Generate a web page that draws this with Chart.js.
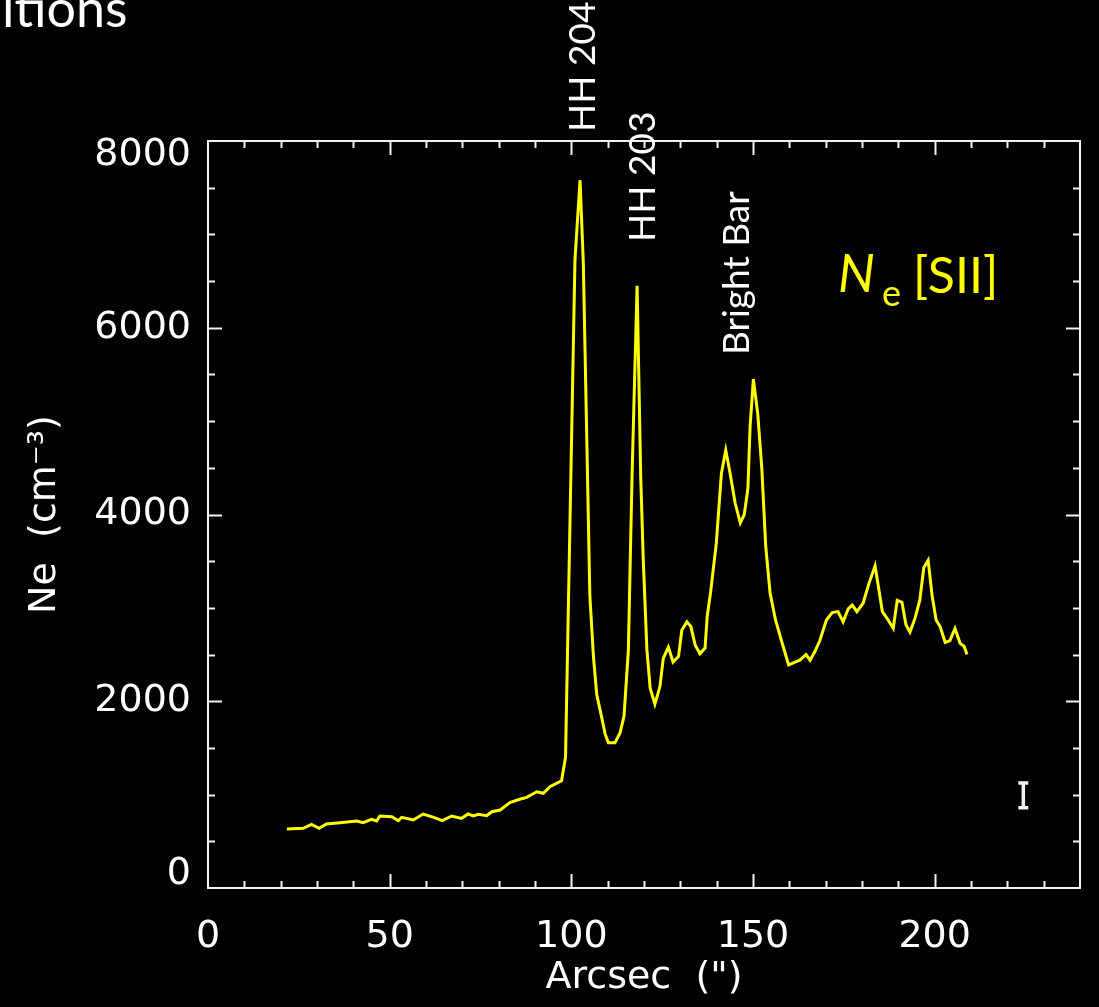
<!DOCTYPE html>
<html>
<head>
<meta charset="utf-8">
<title>Ne [SII] profile</title>
<script src="https://cdn.jsdelivr.net/npm/chart.js@4.4.1/dist/chart.umd.min.js"></script>
<style>
  body { margin: 0; background: #000; }
  #wrap { width: 1099px; height: 1007px; }
</style>
</head>
<body>
<div id="wrap"><canvas id="ne" width="1099" height="1007"></canvas></div>
<script>
"use strict";
// position along the slit (arcsec) and electron density from [SII] (cm^-3)
var arcsec = [21.7, 26.2, 28.5, 30.6, 32.6, 36.3, 40.9, 42.7, 45.0, 46.4, 47.3, 50.6, 52.4, 53.3, 56.5, 59.2,
  62.1, 64.5, 67.1, 69.8, 71.6, 73.0, 74.4, 76.7, 78.1, 80.4, 83.1, 85.8, 87.7, 90.5, 92.3, 94.1, 97.3, 98.4,
  101.0, 102.4, 103.3, 105.1, 106.1, 107.0, 107.9, 109.3, 110.2, 112.0, 113.4, 114.5, 115.7, 116.7, 118.1,
  119.1, 119.8, 120.8, 121.7, 123.0, 124.4, 125.3, 126.7, 128.0, 129.5, 130.4, 131.8, 132.9, 134.1, 135.4,
  136.8, 137.4, 138.3, 139.9, 141.3, 142.5, 143.7, 145.1, 146.5, 147.6, 148.6, 149.2, 150.1, 151.3, 152.4,
  153.5, 154.7, 156.2, 157.9, 159.8, 161.6, 162.9, 164.6, 165.7, 167.0, 168.4, 170.2, 171.8, 173.4, 174.8,
  176.2, 177.3, 178.6, 180.3, 181.9, 183.6, 185.6, 187.2, 188.6, 189.7, 191.0, 192.1, 193.2, 194.6, 195.9,
  197.0, 198.2, 199.3, 200.4, 201.5, 202.9, 204.2, 205.6, 207.0, 208.1, 208.9];
var neSII = [632, 640, 682, 640, 685, 700, 718, 700, 735, 718, 771, 764, 721, 757, 728, 792,
  757, 721, 771, 746, 792, 771, 789, 775, 817, 835, 914, 950, 971, 1031, 1014, 1085, 1149, 1400,
  6730, 7580, 6690, 3130, 2470, 2070, 1910, 1650, 1555, 1555, 1660, 1840, 2550, 4400, 6450,
  4400, 3510, 2550, 2140, 1970, 2160, 2460, 2580, 2420, 2480, 2760, 2850, 2800, 2600, 2510,
  2570, 2910, 3160, 3690, 4440, 4690, 4440, 4120, 3910, 4000, 4280, 4940, 5450, 5080, 4510,
  3660, 3160, 2870, 2640, 2390, 2420, 2440, 2500, 2440, 2530, 2650, 2870, 2950, 2960, 2850,
  2990, 3030, 2960, 3050, 3260, 3450, 2960, 2870, 2780, 3080, 3060, 2820, 2740, 2890, 3080,
  3430, 3510, 3130, 2870, 2800, 2630, 2650, 2780, 2620, 2590, 2500];

var xTicks = [0, 50, 100, 150, 200];
var yTicks = [0, 2000, 4000, 6000, 8000];

// labelled features and where they sit along the slit
var featureNames = ["HH 204", "HH 203", "Bright Bar"];
var featureX = [106.5, 123.0, 149.0];

// typical error bar
var errX = 224.4;
var errLow = 860;
var errHigh = 1125;

var tickFont = { family: '"DejaVu Sans", sans-serif', size: 38 };

var points = arcsec.map(function (a, i) { return { x: a, y: neSII[i] }; });

// IDL style box: frame, inward ticks on all four sides, y labels, notes
var boxPlugin = {
  id: "box",
  afterDraw: function (chart) {
    var ctx = chart.ctx;
    var a = chart.chartArea;
    var xs = chart.scales.x, ys = chart.scales.y;
    ctx.save();
    ctx.strokeStyle = "#f2f2f2";
    ctx.lineWidth = 2;
    ctx.strokeRect(a.left, a.top, a.right - a.left, a.bottom - a.top);

    ctx.beginPath();
    for (var v = 10; v < 240; v += 10) {
      var px = Math.round(xs.getPixelForValue(v)) + 0.5;
      var len = v % 50 === 0 ? 14 : 7;
      ctx.moveTo(px, a.bottom); ctx.lineTo(px, a.bottom - len);
      ctx.moveTo(px, a.top); ctx.lineTo(px, a.top + len);
    }
    for (var w = 500; w < 8000; w += 500) {
      var py = Math.round(ys.getPixelForValue(w)) + 0.5;
      var l2 = w % 2000 === 0 ? 14 : 7;
      ctx.moveTo(a.left, py); ctx.lineTo(a.left + l2, py);
      ctx.moveTo(a.right, py); ctx.lineTo(a.right - l2, py);
    }
    ctx.stroke();

    // y tick labels, end ones kept inside the box height
    ctx.fillStyle = "#fff";
    ctx.font = tickFont.size + "px " + tickFont.family;
    ctx.textAlign = "right";
    ctx.textBaseline = "middle";
    yTicks.forEach(function (t) {
      var y = ys.getPixelForValue(t);
      y = Math.min(Math.max(y, a.top + 14), a.bottom - 14);
      ctx.fillText(String(t), a.left - 17, y);
    });

    // error bar
    var ex = xs.getPixelForValue(errX);
    var e1 = ys.getPixelForValue(errLow), e2 = ys.getPixelForValue(errHigh);
    ctx.lineWidth = 3.5;
    ctx.beginPath();
    ctx.moveTo(ex, e1); ctx.lineTo(ex, e2);
    ctx.moveTo(ex - 5, e1); ctx.lineTo(ex + 5, e1);
    ctx.moveTo(ex - 5, e2); ctx.lineTo(ex + 5, e2);
    ctx.stroke();

    // feature names, written upwards
    var bottoms = [132, 242, 355];
    ctx.font = "37px Lato, sans-serif";
    ctx.textAlign = "left";
    ctx.textBaseline = "alphabetic";
    featureNames.forEach(function (name, i) {
      ctx.save();
      ctx.translate(xs.getPixelForValue(featureX[i]), bottoms[i]);
      ctx.rotate(-Math.PI / 2);
      ctx.fillText(name, 0, 0);
      ctx.restore();
    });

    // N_e[SII]
    ctx.fillStyle = "#ffff00";
    ctx.font = "italic 52px Lato, sans-serif";
    ctx.fillText("N", 838, 292);
    ctx.font = "36px Lato, sans-serif";
    ctx.fillText("e", 882, 306);
    ctx.font = "50px Lato, sans-serif";
    ctx.fillText("[SII]", 913, 293);

    // slide heading running off the left edge
    ctx.fillStyle = "#fff";
    ctx.font = "52px Lato, sans-serif";
    ctx.fillText("itions", 2, 27);
    ctx.restore();
  }
};

new Chart(document.getElementById("ne"), {
  type: "line",
  data: {
    datasets: [{
      data: points,
      borderColor: "#ffff00",
      borderWidth: 3,
      pointRadius: 0,
      tension: 0,
      fill: false
    }]
  },
  options: {
    responsive: false,
    animation: false,
    layout: { padding: { top: 141, right: 19, left: 0, bottom: 0 } },
    plugins: { legend: { display: false }, tooltip: { enabled: false } },
    scales: {
      x: {
        type: "linear",
        min: 0,
        max: 240,
        grid: { display: false },
        border: { display: false },
        afterBuildTicks: function (s) { s.ticks = xTicks.map(function (v) { return { value: v }; }); },
        afterFit: function (s) { s.height = 119; },
        ticks: { color: "#fff", font: tickFont, padding: 18, maxRotation: 0, autoSkip: false },
        title: { display: true, text: 'Arcsec  (")', color: "#fff", font: tickFont, padding: { top: 0, bottom: 6 } }
      },
      y: {
        type: "linear",
        min: 0,
        max: 8000,
        grid: { display: false },
        border: { display: false },
        afterBuildTicks: function (s) { s.ticks = yTicks.map(function (v) { return { value: v }; }); },
        afterFit: function (s) { s.width = 208; },
        ticks: { display: false },
        title: { display: true, text: "Ne  (cm\u207B\u00B3)", color: "#fff", font: tickFont, padding: { top: 22, bottom: 0 } }
      }
    }
  },
  plugins: [boxPlugin]
});
</script>
</body>
</html>
